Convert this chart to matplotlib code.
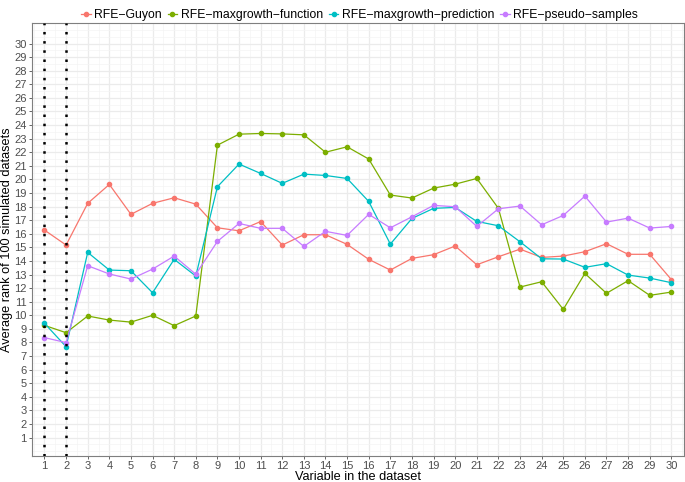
import matplotlib
matplotlib.use("Agg")
import matplotlib.pyplot as plt
import numpy as np

plt.rcParams['font.family'] = ['Liberation Sans', 'DejaVu Sans']

# Datos
variables = list(range(1, 31))

rfe_guyon = [16.27, 15.17, 18.24, 19.63, 17.43, 18.24, 18.65, 18.18, 16.44, 16.22,
             16.90, 15.17, 15.93, 15.93, 15.22, 14.12, 13.33, 14.19, 14.46, 15.10,
             13.72, 14.31, 14.87, 14.26, 14.36, 14.68, 15.27, 14.49, 14.49, 12.63]

rfe_maxgrowth_function = [9.26, 8.72, 9.95, 9.65, 9.50, 10.00, 9.24, 9.95, 22.52, 23.33,
                          23.38, 23.35, 23.28, 22.00, 22.40, 21.50, 18.85, 18.63, 19.36, 19.65,
                          20.07, 17.87, 12.08, 12.47, 10.44, 13.08, 11.62, 12.55, 11.47, 11.71]

rfe_maxgrowth_prediction = [9.41, 7.69, 14.63, 13.33, 13.28, 11.66, 14.12, 12.89, 19.46, 21.13,
                            20.44, 19.71, 20.39, 20.29, 20.07, 18.38, 15.24, 17.13, 17.87, 17.94,
                            16.91, 16.59, 15.41, 14.16, 14.14, 13.53, 13.80, 12.96, 12.74, 12.40]

rfe_pseudo_samples = [8.36, 7.99, 13.65, 13.04, 12.67, 13.40, 14.36, 13.02, 15.44, 16.76,
                      16.40, 16.40, 15.07, 16.18, 15.88, 17.43, 16.44, 17.25, 18.09, 17.99,
                      16.54, 17.84, 18.04, 16.66, 17.35, 18.77, 16.86, 17.15, 16.42, 16.54]

series = [
    ("RFE\u2212Guyon", rfe_guyon, "#F8766D"),
    ("RFE\u2212maxgrowth\u2212function", rfe_maxgrowth_function, "#7CAE00"),
    ("RFE\u2212maxgrowth\u2212prediction", rfe_maxgrowth_prediction, "#00BFC4"),
    ("RFE\u2212pseudo\u2212samples", rfe_pseudo_samples, "#C77CFF"),
]

lineas_verticales = [1, 2]

fig = plt.figure(figsize=(6.85, 4.82), dpi=100)
ax = fig.add_axes([0.046, 0.054, 0.953, 0.898])

# Grilla tipo ggplot
ax.set_xticks(variables)
ax.set_yticks(range(1, 31))
ax.set_xticks(np.arange(0.5, 31, 1), minor=True)
ax.set_yticks(np.arange(0, 31.5, 0.5), minor=True)
ax.grid(True, which='major', color='#EBEBEB', linewidth=0.9)
ax.grid(True, which='minor', color='#F4F4F4', linewidth=0.5)
ax.set_axisbelow(True)

for nombre, valores, color in series:
    ax.plot(variables, valores, color=color, linewidth=0.9, marker='o',
            markersize=3, label=nombre)

# Lineas punteadas en las variables 1 y 2
for v in lineas_verticales:
    ax.axvline(v, color='black', linestyle=(0, (1, 2.67)), linewidth=1.8, zorder=5)

ax.set_xlim(0.4, 30.6)
ax.set_ylim(-0.35, 31.5)

for s in ax.spines.values():
    s.set_color('#7F7F7F')
    s.set_linewidth(0.8)

ax.tick_params(axis='both', which='major', labelsize=8, colors='#4D4D4D',
               length=2.5, width=0.6, pad=1)
ax.tick_params(axis='both', which='minor', length=0)

ax.set_xlabel("Variable in the dataset", fontsize=9.2, labelpad=0)
ax.set_ylabel("Average rank of 100 simulated datasets", fontsize=9.2, labelpad=1)

fig.legend(loc='upper center', bbox_to_anchor=(0.525, 1.0), ncol=4, frameon=False,
           fontsize=8.8, handlelength=0.8, handletextpad=0.3, columnspacing=0.45,
           borderaxespad=0.35)

fig.savefig("out.png", dpi=100)
